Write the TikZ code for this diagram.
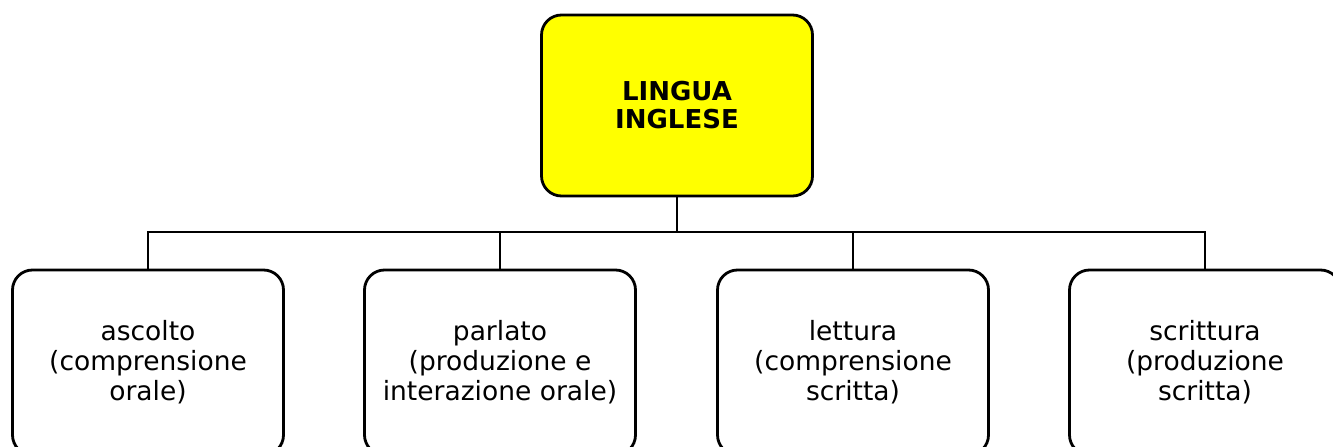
\documentclass[tikz,border=0pt]{standalone}
\usepackage{fontspec}
\setmainfont{DejaVu Sans}
\definecolor{yel}{RGB}{255,255,0}
\begin{document}
\begin{tikzpicture}[x=1pt,y=-1pt,
  box/.style={draw=black, line width=2.8pt, rounded corners=20pt, fill=white,
    minimum width=271pt, minimum height=185pt, align=center, inner sep=0pt,
    font=\fontsize{26.5}{30}\selectfont},
  topbox/.style={box, fill=yel, minimum height=181pt,
    font=\fontsize{26}{28}\selectfont\bfseries},
  conn/.style={draw=black, line width=2.8pt}]
\useasboundingbox (0,0) rectangle (1333,447);
\begin{scope}
\clip (0,0) rectangle (1333,447);
\node[topbox] (top) at (677,105.5) {LINGUA\\INGLESE};
\coordinate (j) at (677,232);
\node[box] (b1) at (148,362.5) {ascolto\\(comprensione\\orale)};
\node[box] (b2) at (500,362.5) {parlato\\(produzione e\\interazione orale)};
\node[box] (b3) at (853,362.5) {lettura\\(comprensione\\scritta)};
\node[box] (b4) at (1205,362.5) {scrittura\\(produzione\\scritta)};
\draw[conn] (top.south) -- (j);
\draw[conn] (b1.north) -- (b1.north |- j) -- (b4.north |- j) -- (b4.north);
\draw[conn] (b2.north) -- (b2.north |- j);
\draw[conn] (b3.north) -- (b3.north |- j);
\end{scope}
\end{tikzpicture}
\end{document}
